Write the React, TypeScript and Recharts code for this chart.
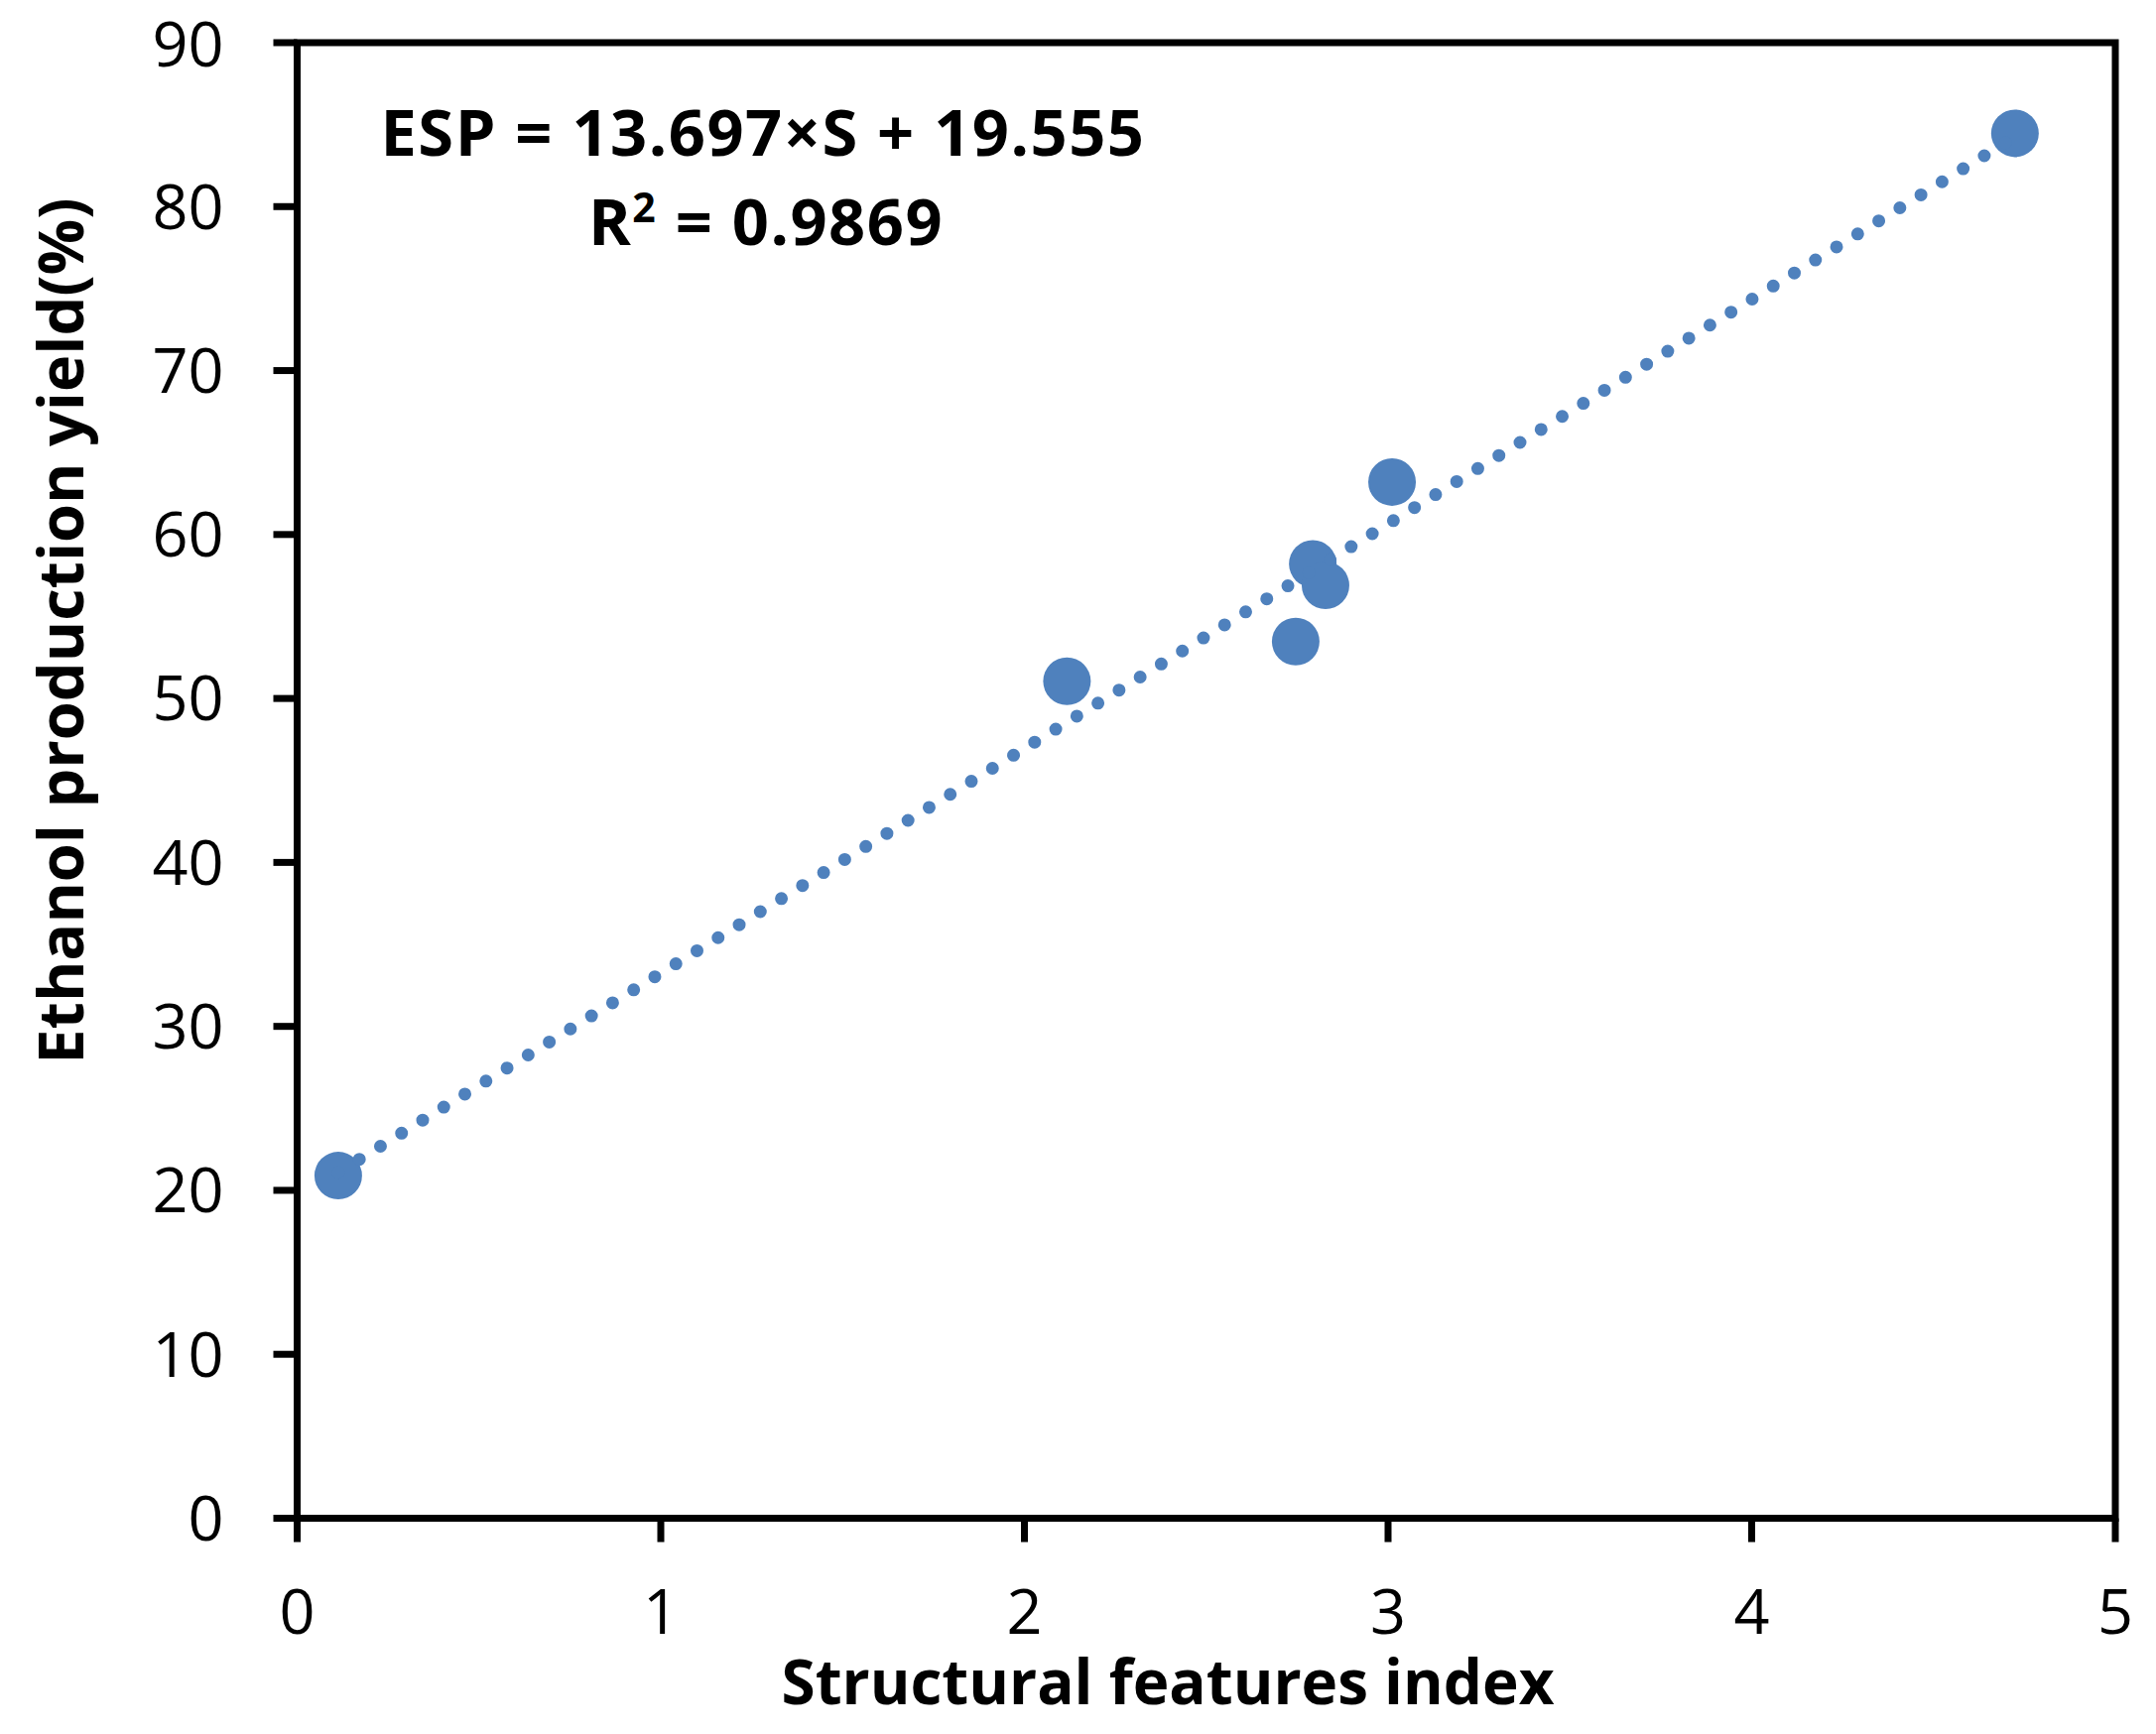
import React from 'react';
import { ScatterChart, Scatter, XAxis, YAxis, ReferenceArea, Customized } from 'recharts';

// structural features index vs ethanol yield
const sIndex = [0.113, 2.117, 2.746, 2.793, 2.828, 3.011, 4.724];
const yieldPct = [20.9, 51.05, 53.47, 58.21, 56.9, 63.2, 84.47];

// trendline end points
const trendS = [0.113, 4.724];
const trendY = [21.1, 84.26];

const xTicks = [0, 1, 2, 3, 4, 5];
const yTicks = [0, 10, 20, 30, 40, 50, 60, 70, 80, 90];

const points = sIndex.map((s, i) => ({ s, y: yieldPct[i] }));
const trend = trendS.map((s, i) => ({ s, y: trendY[i] }));

const BLUE = '#4F81BD';
const FONT = '"Open Sans", "Liberation Sans", sans-serif';

const Marker = (props: any) => <circle cx={props.cx} cy={props.cy} r={24} fill={BLUE} />;
const NoShape = () => <g />;

const Texts = () => (
  <g fontFamily={FONT} fontWeight={700} fill="#000">
    <text x={761} y={149} fontSize={65} letterSpacing={1.5} textAnchor="middle">ESP = 13.697×S + 19.555</text>
    <text x={764} y={239} fontSize={65} letterSpacing={1.5} textAnchor="middle">
      R<tspan dy={-23} fontSize={41}>2</tspan><tspan dy={23}> = 0.9869</tspan>
    </text>
    <text x={1169} y={1710} fontSize={62} textAnchor="middle">Structural features index</text>
    <text x={0} y={0} fontSize={63} textAnchor="middle" transform="translate(76 628) rotate(-90)">
      Ethanol production yield(%)
    </text>
  </g>
);

export default function App() {
  const tickStyle = { fill: '#000', fontSize: 63, fontFamily: FONT };
  return (
    <div style={{ width: 2165, height: 1740 }}>
      <ScatterChart width={2165} height={1740} margin={{ top: 35, right: 41, bottom: 0, left: 0 }}>
        <XAxis
          type="number"
          dataKey="s"
          domain={[0, 5]}
          ticks={xTicks}
          height={217.5}
          tickSize={24}
          tickMargin={48}
          tick={tickStyle}
          axisLine={{ stroke: '#000', strokeWidth: 7 }}
          tickLine={{ stroke: '#000', strokeWidth: 7 }}
        />
        <YAxis
          type="number"
          dataKey="y"
          domain={[0, 90]}
          ticks={yTicks}
          width={291.5}
          tickSize={24}
          tickMargin={50}
          tick={tickStyle}
          axisLine={{ stroke: '#000', strokeWidth: 7 }}
          tickLine={{ stroke: '#000', strokeWidth: 7 }}
        />
        <ReferenceArea x1={0} x2={5} y1={0} y2={90} fill="none" stroke="#000" strokeWidth={7} fillOpacity={0} />
        <Scatter data={points} shape={Marker} isAnimationActive={false} />
        <Scatter
          data={trend}
          shape={NoShape}
          line={{ stroke: BLUE, strokeWidth: 13, strokeDasharray: '0 25', strokeLinecap: 'round' }}
          isAnimationActive={false}
        />
        <Customized component={Texts} />
      </ScatterChart>
    </div>
  );
}
